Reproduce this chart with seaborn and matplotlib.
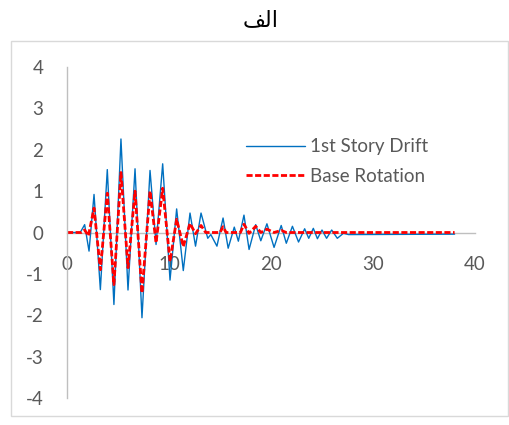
import matplotlib
matplotlib.use("Agg")
import matplotlib.pyplot as plt
from matplotlib.patches import Rectangle
import seaborn as sns
import pandas as pd

# ---- data ----
t_drift = [0, 1.3, 1.73, 2.16, 2.65, 3.27, 3.95, 4.6, 5.29, 5.98, 6.67, 7.35, 8.14,
           8.73, 9.38, 10.1, 10.75, 11.4, 12.06, 12.6, 13.14, 13.8, 14.1, 14.7, 15.3,
           15.8, 16.4, 16.8, 17.35, 17.85, 18.5, 19.0, 19.6, 20.3, 21.0, 21.5, 22.1,
           22.7, 23.3, 23.7, 24.15, 24.55, 25.0, 25.45, 25.95, 26.5, 27.1, 27.6, 38.0]
drift = [0, 0, 0.19, -0.45, 0.92, -1.38, 1.52, -1.74, 2.26, -1.39, 1.54, -2.06, 1.5,
         -0.29, 1.66, -1.15, 0.57, -0.92, 0.47, -0.33, 0.47, -0.14, -0.05, -0.33, 0.35,
         -0.38, 0.13, -0.21, 0.42, -0.41, 0.19, -0.2, 0.21, -0.36, 0.17, -0.26, 0.15,
         -0.23, 0.09, -0.14, 0.1, -0.15, 0.06, -0.14, 0.06, -0.14, -0.02, -0.05, -0.04]

t_rot = [0, 1.4, 1.73, 2.1, 2.65, 3.27, 3.95, 4.6, 5.29, 5.98, 6.67, 7.35, 8.14, 8.73,
         9.38, 10.1, 10.75, 11.4, 12.06, 12.6, 13.14, 13.6, 15.0, 15.3, 15.6, 17.0,
         17.35, 17.85, 18.5, 19.0, 19.6, 20.3, 21.0, 21.5, 38.0]
rotation = [0, 0, 0.06, -0.08, 0.59, -0.9, 0.95, -1.26, 1.45, -0.85, 1.0, -1.46, 1.0,
            -0.25, 1.07, -0.7, 0.32, -0.34, 0.22, -0.03, 0.17, 0, 0, 0.14, 0, 0,
            0.2, -0.02, 0.15, 0, 0.08, 0, 0.05, 0, 0]

series_names = ["1st Story Drift", "Base Rotation"]
x_ticks = [0, 10, 20, 30, 40]
y_ticks = [-4, -3, -2, -1, 0, 1, 2, 3, 4]
title = "\uFED2\uFEDF\u0627"  # "الف" in shaped presentation forms (visual order)

# ---- styling ----
sns.set_style("white")
plt.rcParams['font.family'] = ['Lato', 'DejaVu Sans']
plt.rcParams['axes.unicode_minus'] = False

FS = 13.5
W, H = 510, 425
fig = plt.figure(figsize=(W / 100, H / 100), dpi=100)
ax = fig.add_axes([67 / W, 1 - 398 / H, (475 - 67) / W, (398 - 67) / H])

df1 = pd.DataFrame({"t": t_drift, "v": drift})
df2 = pd.DataFrame({"t": t_rot, "v": rotation})
sns.lineplot(data=df1, x="t", y="v", ax=ax, color="#0070C0", linewidth=1.0,
             estimator=None, label=series_names[0])
sns.lineplot(data=df2, x="t", y="v", ax=ax, color="#FF0000", linewidth=2.0,
             estimator=None, label=series_names[1])
ax.lines[0].set_solid_joinstyle("round")
ax.lines[1].set_linestyle((0, (2.2, 0.9)))

ax.set_xlim(0, 40)
ax.set_ylim(-4, 4)
ax.set_xticks(x_ticks)
ax.set_yticks(y_ticks)
ax.set_xlabel("")
ax.set_ylabel("")

for s in ["top", "right"]:
    ax.spines[s].set_visible(False)
ax.spines["left"].set_position(("data", 0))
ax.spines["bottom"].set_position(("data", 0))
for s in ["left", "bottom"]:
    ax.spines[s].set_color("#bfbfbf")
    ax.spines[s].set_linewidth(1.0)
ax.spines["bottom"].set_zorder(0.5)
ax.tick_params(axis="both", length=0, labelsize=FS, labelcolor="#595959")
ax.tick_params(axis="x", pad=17)
ax.tick_params(axis="y", pad=17)
ax.patch.set_alpha(0)

leg = ax.legend(loc="center left", bbox_to_anchor=(237 / W, 1 - 161.5 / H),
                bbox_transform=fig.transFigure, frameon=False, borderpad=0,
                handlelength=3.1, handletextpad=0.27, labelspacing=0.65,
                fontsize=FS)
for txt in leg.get_texts():
    txt.set_color("#595959")

fig.text(261 / W, 1 - 20 / H, title, ha="center", va="center", fontsize=16,
         family=["DejaVu Sans"], color="#000000")

fig.patches.append(Rectangle((11 / W, 1 - 416 / H), (508 - 11) / W, (416 - 41) / H,
                             transform=fig.transFigure, fill=False,
                             edgecolor="#d9d9d9", linewidth=1.0))

fig.savefig("out.png", dpi=100)
